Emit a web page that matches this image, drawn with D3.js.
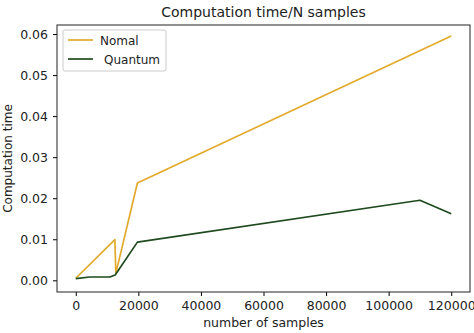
<!DOCTYPE html>
<html>
<head>
<meta charset="utf-8">
<script src="https://cdn.jsdelivr.net/npm/d3@7"></script>
<style>
  body { margin: 0; background: #fff; }
  svg text { font-family: "DejaVu Sans", sans-serif; fill: #222; }
</style>
</head>
<body>
<div class="chart"></div>
<script>
var normalX = [0, 12500, 12800, 19700, 120000];
var normalY = [0.0005, 0.0099, 0.0017, 0.0237, 0.0595];
var quantumX = [0, 4500, 10900, 12600, 19700, 110000, 120000];
var quantumY = [0.0004, 0.0008, 0.0008, 0.0013, 0.0093, 0.0195, 0.0162];
var xTicks = [0, 20000, 40000, 60000, 80000, 100000, 120000];
var yTicks = [0, 0.01, 0.02, 0.03, 0.04, 0.05, 0.06];
var seriesNames = ['Nomal', 'Quantum'];
var seriesColors = ['#e2aa2c', '#1e4a1e'];

var margin = { top: 25, right: 4, bottom: 41, left: 57 };
var width = 474 - margin.left - margin.right;
var height = 333 - margin.top - margin.bottom;

var svg = d3.select('.chart')
  .append('svg')
    .attr('width', 474)
    .attr('height', 333)
  .append('g')
    .attr('transform', 'translate(' + margin.left + ', ' + margin.top + ')');

var xScale = d3.scaleLinear()
  .domain([-6000, 126000])
  .range([0, width]);

var yScale = d3.scaleLinear()
  .domain([-0.00285, 0.0622])
  .range([height, 0]);

var xAxis = d3.axisBottom(xScale)
  .tickValues(xTicks)
  .tickFormat(d3.format('d'))
  .tickSizeOuter(0)
  .tickSize(4)
  .tickPadding(5);
svg.append('g')
  .attr('transform', `translate(0, ${height})`)
  .call(xAxis)
  .call(g => g.select('.domain').remove())
  .selectAll('text').style('font-size', '12.5px');

var yAxis = d3.axisLeft(yScale)
  .tickValues(yTicks)
  .tickFormat(d3.format('.2f'))
  .tickSizeOuter(0)
  .tickSize(4)
  .tickPadding(5);
svg.append('g')
  .call(yAxis)
  .call(g => g.select('.domain').remove())
  .selectAll('text').style('font-size', '12.5px');

// frame
svg.append('rect')
  .attr('width', width)
  .attr('height', height)
  .attr('fill', 'none')
  .attr('stroke', '#222')
  .attr('stroke-width', 1);

var line = d3.line()
  .x(d => xScale(d[0]))
  .y(d => yScale(d[1]));

var series = [d3.zip(normalX, normalY), d3.zip(quantumX, quantumY)];

svg.selectAll('.series')
  .data(series)
  .enter()
  .append('path')
    .attr('class', 'series')
    .attr('d', line)
    .attr('fill', 'none')
    .attr('stroke', (d, i) => seriesColors[i])
    .attr('stroke-width', 1.7)
    .attr('stroke-linejoin', 'round');

// legend
var legend = svg.append('g').attr('transform', 'translate(6, 5)');
legend.append('rect')
  .attr('width', 103)
  .attr('height', 41)
  .attr('rx', 2)
  .attr('fill', '#fff')
  .attr('stroke', '#ccc');
seriesNames.forEach(function(name, i) {
  var row = legend.append('g').attr('transform', `translate(0, ${10 + i * 19})`);
  row.append('line')
    .attr('x1', 5).attr('x2', 30)
    .attr('stroke', seriesColors[i])
    .attr('stroke-width', 1.7);
  row.append('text')
    .attr('x', i === 0 ? 37 : 41)
    .attr('y', 4.5)
    .style('font-size', '12px')
    .text(name);
});

svg.append('text')
  .attr('x', width / 2)
  .attr('y', -8)
  .attr('text-anchor', 'middle')
  .style('font-size', '14px')
  .text('Computation time/N samples');

svg.append('text')
  .attr('x', width / 2)
  .attr('y', height + 35)
  .attr('text-anchor', 'middle')
  .style('font-size', '12.5px')
  .text('number of samples');

svg.append('text')
  .attr('transform', `translate(${-45}, ${height / 2}) rotate(-90)`)
  .attr('text-anchor', 'middle')
  .style('font-size', '12px')
  .text('Computation time');
</script>
</body>
</html>
